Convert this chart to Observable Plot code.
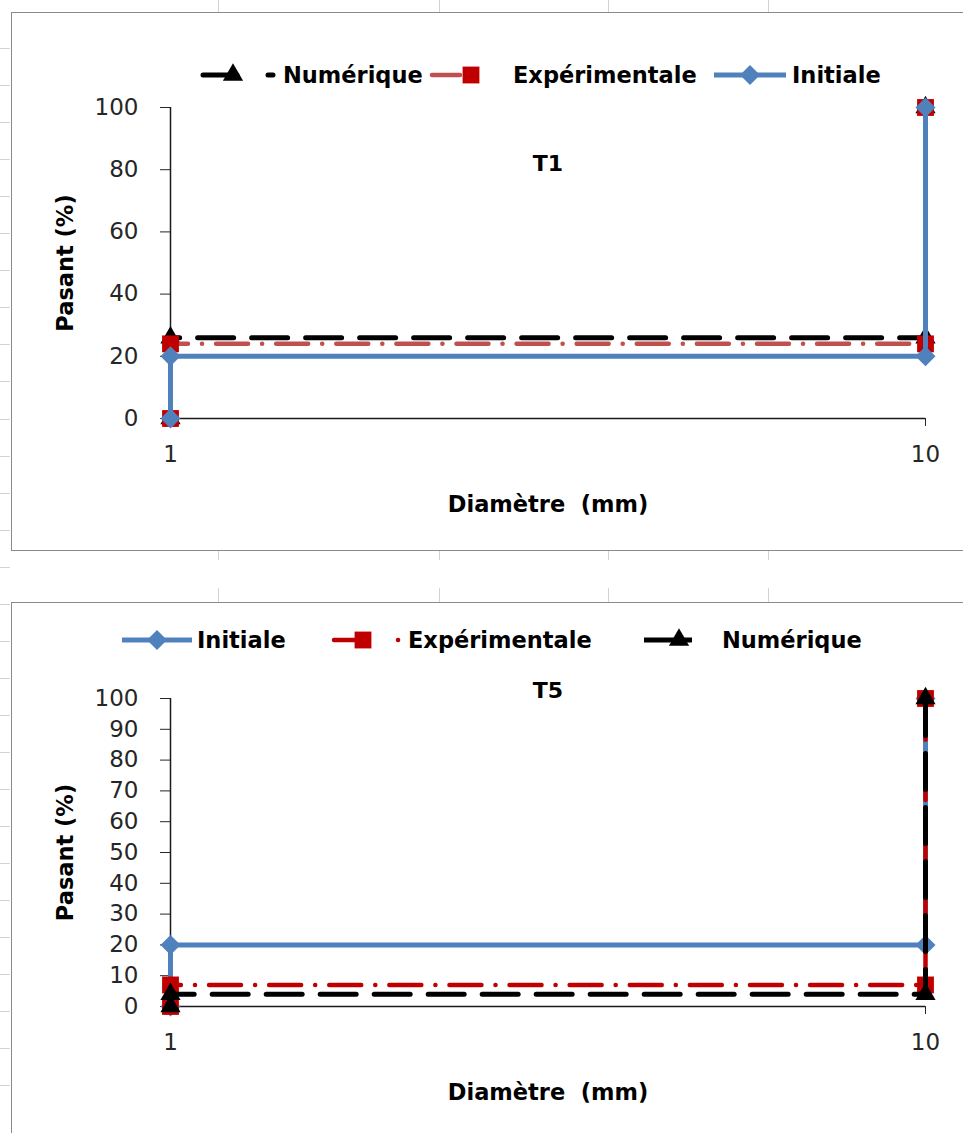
<!DOCTYPE html>
<html>
<head>
<meta charset="utf-8">
<script src="https://cdn.jsdelivr.net/npm/d3@7"></script>
<script src="https://cdn.jsdelivr.net/npm/@observablehq/plot@0.6"></script>
<style>
  html, body { margin: 0; padding: 0; background: #fff; }
  #page { position: relative; width: 963px; height: 1133px; overflow: hidden; font-family: "DejaVu Sans", sans-serif; }
  .panel { position: absolute; left: 11px; width: 970px; border: 1.5px solid #8a8a8a; background: #fff; box-sizing: border-box; }
  .stub { position: absolute; background: #d2d2d2; }
  .chart { position: absolute; left: 0; }
  .leg-swatch { position: absolute; overflow: visible; }
  .leg-text { position: absolute; font-weight: bold; font-size: 22.5px; line-height: 30px; color: #000; white-space: pre; }
</style>
</head>
<body>
<div id="page"></div>
<script>
// ---------- data ----------
const diametres = [1, 1, 10, 10];
const t1Initiale = [0, 20, 20, 100];
const t1Experimentale = [0, 24, 24, 100];
const t1Numerique = [0, 26, 26, 100];
const t5Initiale = [0, 20, 20, 100];
const t5Experimentale = [0, 7, 7, 100];
const t5Numerique = [0, 4, 4, 100];
const xTicks = [1, 10];
const t1YTicks = [0, 20, 40, 60, 80, 100];
const t5YTicks = [0, 10, 20, 30, 40, 50, 60, 70, 80, 90, 100];
const t1Order = ["Numérique", "Expérimentale", "Initiale"];
const t5Order = ["Initiale", "Expérimentale", "Numérique"];
const xLabel = "Diamètre  (mm)";
const yLabel = "Pasant (%)";

// ---------- styles ----------
const baseStyles = {
  "Initiale":      {stroke: "#4f81bd", width: 5,   dash: null,           symbol: "diamond2", r: 9,   fill: "#4f81bd"},
  "Expérimentale": {stroke: "#c0504d", width: 4.5, dash: "32 14 0.1 14", symbol: "square",   r: 9.5, fill: "#c00000"},
  "Numérique":     {stroke: "#000000", width: 5,   dash: "36 18",        symbol: "triangle", r: 7.5, fill: "#000000"}
};

const page = document.getElementById("page");

function addDiv(cls, css) {
  const d = document.createElement("div");
  d.className = cls;
  Object.assign(d.style, css);
  page.appendChild(d);
  return d;
}

// spreadsheet background stubs
[218, 439, 608, 768].forEach(x => {
  addDiv("stub", {left: x + "px", top: "0px", width: "1px", height: "12px"});
  addDiv("stub", {left: x + "px", top: "550px", width: "1px", height: "10px"});
  addDiv("stub", {left: x + "px", top: "588px", width: "1px", height: "14px"});
});
for (let k = 0; k < 29; k++) {
  addDiv("stub", {left: "0px", top: Math.round(48 + 37.05 * k) + "px", width: "10px", height: "1px"});
}

// panel borders
addDiv("panel", {top: "12px", height: "539px"});
addDiv("panel", {top: "602px", height: "600px"});

function buildPanel(cfg) {
  const styles = {};
  for (const k in baseStyles) styles[k] = Object.assign({}, baseStyles[k], (cfg.overrides || {})[k] || {});
  const marks = [
    Plot.ruleX([xTicks[0]], {y1: cfg.yTicks[0], y2: cfg.yTicks[cfg.yTicks.length - 1], stroke: "#1a1a1a", strokeWidth: 1.5}),
    Plot.ruleY([cfg.yTicks[0]], {x1: xTicks[0], x2: xTicks[xTicks.length - 1], stroke: "#1a1a1a", strokeWidth: 1.5})
  ];
  for (const name of cfg.order) {
    const st = styles[name];
    const data = diametres.map((d, i) => ({diametre: d, passant: cfg.values[name][i], serie: name}));
    marks.push(Plot.line(data, {
      x: "diametre", y: "passant", stroke: st.stroke, strokeWidth: st.width,
      strokeDasharray: st.dash || undefined, strokeLinecap: st.dash ? "round" : "butt", strokeLinejoin: "round"
    }));
    marks.push(Plot.dot(data, {x: "diametre", y: "passant", symbol: st.symbol, r: st.r, fill: st.fill, stroke: "none"}));
  }
  marks.push(Plot.text([cfg.title], {text: d => d, frameAnchor: "top", dy: cfg.titleDy, fontWeight: "bold", fontSize: 22, fill: "#000", lineAnchor: "middle"}));
  marks.push(Plot.text([xLabel], {text: d => d, frameAnchor: "bottom", dy: 86, fontWeight: "bold", fontSize: 22.5, fill: "#000", lineAnchor: "middle", textAnchor: "middle"}));
  marks.push(Plot.text([yLabel], {text: d => d, frameAnchor: "left", dx: -105, rotate: -90, fontWeight: "bold", fontSize: 22.5, fill: "#000", lineAnchor: "middle", textAnchor: "middle"}));

  const svg = Plot.plot({
    width: 963,
    height: cfg.height,
    marginLeft: 170,
    marginRight: 38,
    marginTop: cfg.marginTop,
    marginBottom: cfg.marginBottom,
    style: {background: "transparent", overflow: "visible", fontFamily: "DejaVu Sans, sans-serif", fontSize: "23px", color: "#262626"},
    x: {type: "log", domain: [xTicks[0], xTicks[xTicks.length - 1]], ticks: xTicks, tickFormat: d => String(d), tickSize: 8, tickPadding: 19, label: null},
    y: {domain: [cfg.yTicks[0], cfg.yTicks[cfg.yTicks.length - 1]], ticks: cfg.yTicks, tickSize: 10, tickPadding: 22, label: null},
    marks
  });
  const wrap = document.createElement("div");
  wrap.className = "chart";
  wrap.style.top = cfg.top + "px";
  wrap.appendChild(svg);
  page.appendChild(wrap);

  // legend
  for (const it of cfg.legend) {
    const st = styles[it.name];
    const h = 30;
    const ns = "http://www.w3.org/2000/svg";
    const s = document.createElementNS(ns, "svg");
    s.setAttribute("class", "leg-swatch");
    s.setAttribute("width", it.w);
    s.setAttribute("height", h);
    s.style.left = it.left + "px";
    s.style.top = (cfg.legendY - h / 2) + "px";
    const line = document.createElementNS(ns, "line");
    line.setAttribute("x1", 2); line.setAttribute("x2", it.w - 2);
    line.setAttribute("y1", h / 2); line.setAttribute("y2", h / 2);
    line.setAttribute("stroke", st.stroke);
    line.setAttribute("stroke-width", st.width);
    line.setAttribute("stroke-linecap", it.dash ? "round" : "butt");
    if (it.dash) line.setAttribute("stroke-dasharray", it.dash);
    s.appendChild(line);
    const symMap = {diamond2: d3.symbolDiamond2, square: d3.symbolSquare, triangle: d3.symbolTriangle};
    const p = document.createElementNS(ns, "path");
    p.setAttribute("d", d3.symbol(symMap[st.symbol], st.r * st.r * Math.PI)());
    p.setAttribute("transform", `translate(${it.mx},${h / 2})`);
    p.setAttribute("fill", st.fill);
    s.appendChild(p);
    page.appendChild(s);
    const t = document.createElement("div");
    t.className = "leg-text";
    t.textContent = it.name;
    t.style.left = it.textLeft + "px";
    t.style.top = (cfg.legendY - 15) + "px";
    page.appendChild(t);
  }
}

buildPanel({
  top: 0, height: 560, marginTop: 107, marginBottom: 142,
  yTicks: t1YTicks, order: t1Order,
  values: {"Initiale": t1Initiale, "Expérimentale": t1Experimentale, "Numérique": t1Numerique},
  title: "T1", titleDy: 56,
  legendY: 75,
  legend: [
    {name: "Numérique", left: 201, w: 74, mx: 32, dash: "34 31", textLeft: 283},
    {name: "Expérimentale", left: 430, w: 76, mx: 41, dash: "28 100", textLeft: 513},
    {name: "Initiale", left: 712, w: 76, mx: 38, dash: null, textLeft: 792}
  ]
});

buildPanel({
  top: 580, height: 553, marginTop: 118, marginBottom: 127,
  yTicks: t5YTicks, order: t5Order,
  values: {"Initiale": t5Initiale, "Expérimentale": t5Experimentale, "Numérique": t5Numerique},
  overrides: {"Expérimentale": {stroke: "#c00000"}},
  title: "T5", titleDy: -8,
  legendY: 640,
  legend: [
    {name: "Initiale", left: 120, w: 74, mx: 37, dash: null, textLeft: 197},
    {name: "Expérimentale", left: 332, w: 70, mx: 31, dash: "22 42 0.1 40", textLeft: 408},
    {name: "Numérique", left: 642, w: 52, mx: 37, dash: null, textLeft: 722}
  ]
});
</script>
</body>
</html>
